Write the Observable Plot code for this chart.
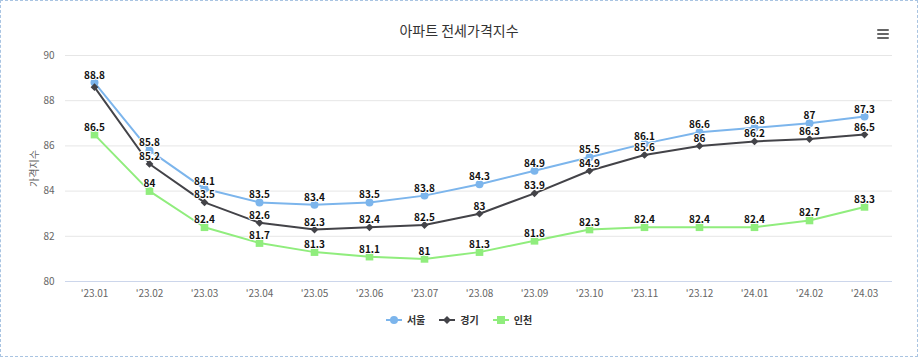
<!DOCTYPE html>
<html><head><meta charset="utf-8">
<script src="https://cdn.jsdelivr.net/npm/d3@7"></script>
<script src="https://cdn.jsdelivr.net/npm/@observablehq/plot@0.6"></script>
<style>
html,body{margin:0;padding:0;background:#fff;}
body{font-family:"Noto Sans CJK KR","Noto Sans",sans-serif;}
#wrap{position:relative;width:916px;height:355px;border:1px dashed #a9c4e2;overflow:hidden;background:#fff}
#title{height:44px;box-sizing:border-box;padding-top:20px;text-align:center;font-size:14px;line-height:18px;color:#333;}
#menu{position:absolute;left:876px;top:28px;width:12px;}
#menu div{height:2px;background:#666;margin-bottom:2px;border-radius:1px}
#legend{display:flex;justify-content:center;gap:14px;padding-top:7px;font-size:10px;font-weight:bold;color:#333;}
.item{display:flex;align-items:center;gap:5px}
.sym{position:relative;width:16px;height:2px}
.sym i{position:absolute;left:4px;top:-3px;width:8px;height:8px}
</style></head>
<body>
<div id="wrap">
  <div id="title">아파트 전세가격지수</div>
  <div id="menu"><div></div><div></div><div></div></div>
  <div id="chart"></div>
  <div id="legend"></div>
</div>
<script>
const months = ["'23.01","'23.02","'23.03","'23.04","'23.05","'23.06","'23.07","'23.08","'23.09","'23.10","'23.11","'23.12","'24.01","'24.02","'24.03"];
const seriesNames = ["서울","경기","인천"];
const seoul    = [88.8,85.8,84.1,83.5,83.4,83.5,83.8,84.3,84.9,85.5,86.1,86.6,86.8,87,87.3];
const gyeonggi = [88.6,85.2,83.5,82.6,82.3,82.4,82.5,83,83.9,84.9,85.6,86,86.2,86.3,86.5];
const incheon  = [86.5,84,82.4,81.7,81.3,81.1,81,81.3,81.8,82.3,82.4,82.4,82.4,82.7,83.3];
const yTicks = [80,82,84,86,88,90];
const hiddenLabels = [{series:"경기", month:"'23.01"}];

const colors = {"서울":"#7cb5ec","경기":"#434348","인천":"#90ed7d"};
const symbols = {"서울":"circle","경기":"diamond2","인천":"square"};
const sizes = {"서울":4,"경기":3.5,"인천":4.3};

const valuesBy = {"서울":seoul,"경기":gyeonggi,"인천":incheon};
const rows = [];
for (const s of seriesNames) months.forEach((m,i)=>rows.push({series:s, month:m, value:valuesBy[s][i]}));
const labelRows = rows.filter(r=>!hiddenLabels.some(h=>h.series===r.series&&h.month===r.month));

const font = '"Noto Sans CJK KR","Noto Sans",sans-serif';
const marks = [
  Plot.ruleY(yTicks.filter(t=>t!==80), {stroke:"#e6e6e6", strokeWidth:1}),
  Plot.ruleY([80], {stroke:"#ccd6eb", strokeWidth:1}),
  Plot.axisY({ticks:yTicks, tickSize:0, tickPadding:11, fontSize:10, fill:"#666", label:"가격지수", labelAnchor:"center", labelOffset:35, labelArrow:"none"}),
  Plot.axisX({tickSize:0, tickPadding:8, fontSize:10, fill:"#666", label:null})
];
for (const s of seriesNames) {
  const d = rows.filter(r=>r.series===s);
  marks.push(Plot.line(d, {x:"month", y:"value", stroke:colors[s], strokeWidth:2}));
}
for (const s of seriesNames) {
  const d = rows.filter(r=>r.series===s);
  marks.push(Plot.dot(d, {x:"month", y:"value", fill:colors[s], stroke:"none", symbol:symbols[s], r:sizes[s]}));
}
for (const s of seriesNames) {
  const d = labelRows.filter(r=>r.series===s);
  marks.push(Plot.text(d, {x:"month", y:"value", text:d=>String(d.value), lineAnchor:"bottom", dy:-4, fontSize:10, fontWeight:"bold", fill:"#111", stroke:"white", strokeWidth:2}));
}

const chart = Plot.plot({
  width:916, height:260,
  marginTop:10, marginBottom:24, marginLeft:64, marginRight:25,
  style:{fontFamily:font, background:"white", overflow:"visible"},
  x:{type:"point", domain:months, padding:0.5},
  y:{domain:[80,90]},
  marks
});
document.getElementById("chart").appendChild(chart);

// legend
const leg = document.getElementById("legend");
for (const s of seriesNames) {
  const item = document.createElement("div"); item.className="item";
  const sym = document.createElement("span"); sym.className="sym"; sym.style.background=colors[s];
  const m = document.createElement("i"); m.style.background=colors[s];
  if (s==="서울") m.style.borderRadius="50%";
  if (s==="경기") {m.style.transform="rotate(45deg) scale(0.7)";}
  sym.appendChild(m);
  const t = document.createElement("span"); t.textContent=s;
  item.appendChild(sym); item.appendChild(t); leg.appendChild(item);
}
</script>
</body></html>
